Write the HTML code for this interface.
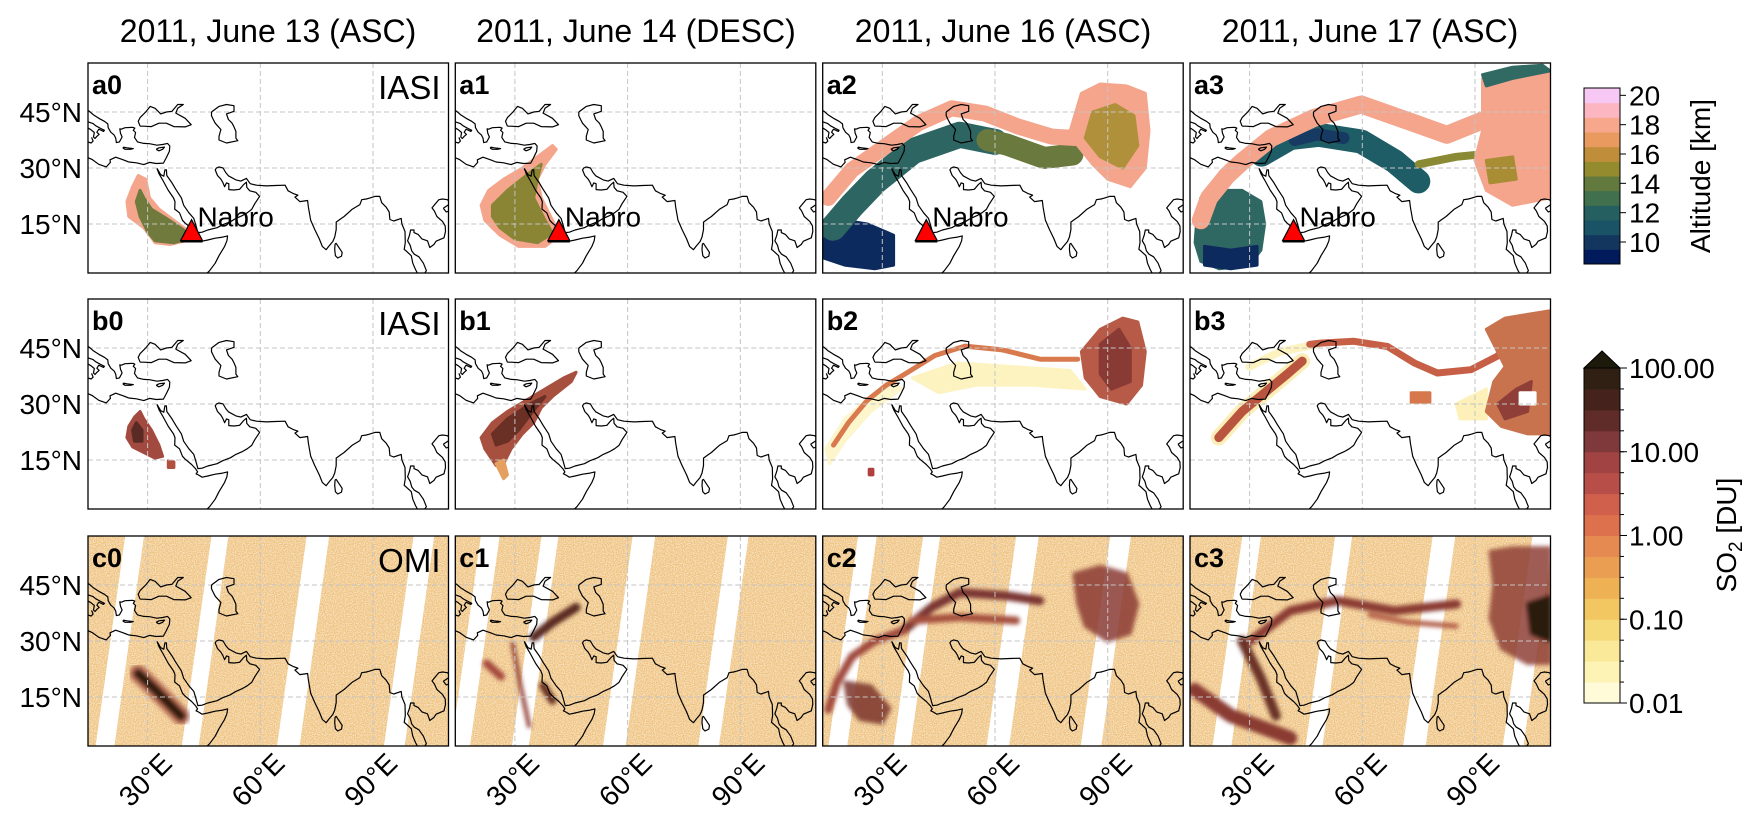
<!DOCTYPE html>
<html><head><meta charset="utf-8"><title>Nabro SO2 plume maps</title>
<style>
html,body{margin:0;padding:0;background:#fff;}
svg{display:block;font-family:"Liberation Sans","DejaVu Sans",sans-serif;}
</style></head>
<body>
<svg id="fig" width="1752" height="825" viewBox="0 0 1752 825" xmlns="http://www.w3.org/2000/svg">
<defs>
<filter id="soft" x="-20%" y="-20%" width="140%" height="140%"><feGaussianBlur stdDeviation="2.2"/></filter>
<filter id="speck" x="0" y="0" width="100%" height="100%">
<feTurbulence type="fractalNoise" baseFrequency="0.9" numOctaves="1" seed="7" result="n"/>
<feColorMatrix in="n" type="matrix" values="0 0 0 0 1  0 0 0 0 1  0 0 0 0 1  0 0 0 -3 1.9"/>
</filter>
</defs>
<g font-size="32" text-anchor="middle" fill="#000">
<text x="268" y="42">2011, June 13 (ASC)</text>
<text x="636" y="42">2011, June 14 (DESC)</text>
<text x="1003" y="42">2011, June 16 (ASC)</text>
<text x="1370" y="42">2011, June 17 (ASC)</text>
</g>
<g id="panels"></g>
<g id="axes"></g>
<g id="cbars"></g>
</svg>
<script>
// ---------- data ----------
const latTicks = [45, 30, 15];
const latTickLabels = ["45°N", "30°N", "15°N"];
const lonTicks = [30, 60, 90];
const lonTickLabels = ["30°E", "60°E", "90°E"];
const altLevels = [8.5,9.5,10.5,11.5,12.5,13.5,14.5,15.5,16.5,17.5,18.5,19.5,20.5];
const altTicks = [10,12,14,16,18,20];
const so2Decades = [-2,-1,0,1,2];
const so2TickLabels = ["0.01","0.10","1.00","10.00","100.00"];
const so2Levels = [-2,-1.75,-1.5,-1.25,-1,-0.75,-0.5,-0.25,0,0.25,0.5,0.75,1,1.25,1.5,1.75,2];
const panelLetters = ["a","b","c"];
const nabro = [41.7, 13.2];
// OMI swath gap longitudes (at top edge) per panel and widths (deg)
const omiGaps = [[26.6,49.3,75.4,103.6],[23.5,39.4,64.4,89.5],[26.1,43.2,68.7,93.5],[30.6,55.1,81.8,108.1]];
const omiGapWidth = [5,4.5,6,5.5];

// coastlines (lon, lat)
const coastMed = [[14,32.8],[15.2,32.3],[17,31],[19,30.3],[20.1,31.5],[20,32.2],[21.5,32.9],[23.5,32.2],[25,31.6],[27,31.4],[29,30.9],[30.5,31.5],[32.3,31.2],[34.2,31.3],[35,32.8],[35.8,34.5],[35.9,35.9],[35.3,36.6],[34,36.3],[32.5,36.1],[30.5,36.5],[29,36.6],[27.3,37],[26.5,38.2],[26.8,39.5],[26.2,40.1],[26.6,40.7],[26,40.9],[24,40.8],[23,40.4],[22.6,40.5],[22.8,39.3],[23.2,38.3],[22.5,37],[21.7,36.8],[21.5,38],[21.1,38.8],[20.2,39.6],[19.5,40.8],[19.4,41.8],[18.5,42.5],[17,43.3],[15.5,44.3],[14.5,45.2],[13.7,45.6]];
const coastItaly = [[14,42.4],[15.5,41.9],[16.2,41.3],[17.5,40.6],[18.5,40.1],[18.3,39.8],[17,40.4],[16.5,39.6],[17.1,39],[16.5,38.5],[16,37.9],[15.6,38.3],[15.8,39.5],[15,40.2],[14,40.8]];
const coastSicily = [[15.1,38.2],[15.5,37.2],[15,36.7],[14,37]];
const coastCrete = [[23.5,35.6],[24.5,35.4],[26.2,35.2],[25.5,35],[24,35],[23.5,35.3],[23.5,35.6]];
const coastCyprus = [[32.3,35],[33,35.4],[34.5,35.6],[34,35],[33,34.6],[32.3,35]];
const coastBlack = [[28,41.2],[27.5,42.5],[28,43.5],[29.5,45],[30.7,46.5],[32,46],[33.5,44.5],[35,45],[36.5,45.2],[38,47],[39.5,47],[38,46],[37.5,44.7],[40,43.3],[41.6,41.6],[40,41],[37,41.1],[35,42],[33,42],[31,41.1],[29,41.2],[28,41.2]];
const coastCaspian = [[47,45],[49,46.5],[51,47],[53,46.7],[53,45.2],[51,44.5],[51.5,43],[52.5,42],[53,41],[53.5,39.8],[53.5,38],[54,37.3],[51,36.7],[49,37.5],[49,38.5],[49.5,40.3],[48,42],[47.5,43],[47,44],[47,45]];
const coastAfrica = [[32.5,29.9],[33,28.5],[34,26.8],[35.5,24],[36.9,22],[37.3,21],[37.2,19],[38.5,18],[39.3,16],[40,15.2],[41.7,13.8],[42.8,12.6],[43.3,11.8],[42.9,11.3],[43.5,11],[44.5,10.4],[46,10.7],[48,11.2],[50,11.5],[51.3,11.8],[51.1,10.5],[50.5,9],[49,6.5],[48,4.5],[46.5,2.5],[45.5,1.5]];
const coastAsia = [[32.5,29.9],[33.5,28.2],[34.3,27.8],[34.6,29.5],[35,29.5],[35.1,28],[36.5,26],[37.5,24.3],[39,22],[39.6,20],[41,18],[42.3,16.5],[42.8,14.8],[43.4,12.7],[44.5,12.8],[46,13.4],[48.5,14],[50,14.8],[52,15.6],[53.5,16.5],[55.3,17.3],[56.5,18],[57.7,18.9],[58.5,20.4],[59.8,22.4],[58.8,23.5],[57.2,23.9],[56.4,24.8],[56.3,26.2],[55.6,25.6],[54.5,24.3],[53,24.1],[51.6,24.2],[51.6,25.8],[51,26],[50.5,25],[50,26.2],[49.5,27],[48.6,28],[48,29.5],[48.3,30],[49,30.3],[50.1,30],[50.8,28.8],[51.5,27.9],[53.5,26.8],[54.8,26.5],[56.3,27.2],[57.3,25.8],[59,25.4],[61.6,25.2],[64,25.3],[66.6,25.4],[67.4,23.9],[68.7,23.2],[70,22.7],[69.2,22.2],[70.5,21],[72.6,21.3],[72.8,19.5],[73.4,16],[74.5,13.5],[75.7,11],[76.5,9],[77.5,8.1],[78.2,9],[79.3,10.3],[79.8,11.5],[80.2,13.5],[80.2,15.5],[81.3,16.3],[82.3,17],[84.5,19],[86.5,20.2],[87,21.5],[88.2,21.7],[89,21.9],[90.5,22.4],[91.8,22.4],[92.3,20.7],[93.5,19.5],[94.3,18.2],[94.5,16.2],[95.5,15.8],[97.5,16.5],[97.7,15],[98.5,13],[98.6,10],[98.3,8.2],[98.8,7.8],[100.2,6.5],[100.6,4.5],[101.3,2.8],[102,1.5]];
const coastIndochina = [[103.5,1.5],[104.2,2.5],[103.4,4.5],[102.2,6.2],[101,6.9],[100.3,7.8],[99.9,9.3],[99.2,10.5],[99.7,12],[100,13.4],[100.9,13.4],[100.9,12.7],[102,12.2],[103,11],[104.5,10.5],[105.1,8.7],[106.2,9.5],[106.8,10.4],[108.9,11.3],[109.3,13],[109.2,14.5],[108.5,15.7],[107,17],[106.3,18.5],[105.7,19.3],[106.5,20.3],[107.5,21.5],[108.5,21.7],[109.8,21.5],[110.3,21]];
const coastSriLanka = [[79.9,9.7],[80.2,9.8],[81,8.6],[81.8,7.4],[81.6,6.4],[80.6,5.9],[80,6.5],[79.8,8.2],[79.9,9.7]];
const coastHainan = [[108.7,19.2],[109.5,18.2],[110.5,18.6],[111,19.8],[110,20.1],[108.7,19.2]];
const coasts = [coastMed,coastItaly,coastSicily,coastCrete,coastCyprus,coastBlack,coastCaspian,coastAfrica,coastAsia,coastIndochina,coastSriLanka,coastHainan];

// plume outlines (lon, lat)
const a0Pink = [[27.5,28],[29.5,27],[30.5,22],[33,19],[37,16],[41,13],[42,11],[36,9.5],[32,10],[29,14],[25,17],[24.5,21],[26,25]];
const a0Olive = [[28,24],[29,22],[31,19],[35,16.5],[39.5,13.5],[41,11],[37,10],[32,10.5],[30,13],[28,17],[27,21]];
const a1Pink = [[21,20],[23,24],[27,27],[32,30],[36,33],[40,36],[41,35],[38,31],[36,27],[37,22],[40,16],[42,12],[38,9],[31,9],[26,12],[22,16]];
const a1Olive = [[24,20],[28,24],[33,28],[37,31],[36,27],[35,22],[38,16],[40,12.5],[36,10],[30,11],[26,14],[24,17]];
const a2PinkArc = [[15.6,22],[21.9,29.5],[30.7,35.7],[39.6,42],[48.5,46],[57.3,44.6],[66.2,41.1],[75.1,38.4],[82,38]];
const a2PinkBlob = [[83,50],[88,52.5],[95,52],[100,50],[101,40],[100,30],[96,25],[90,27],[86,31],[82,36],[80,40]];
const a2OliveCore = [[86,45],[92,47],[97,44],[98,36],[94,30],[88,33],[84,38]];
const a2TealArc = [[16.9,14],[22,20],[28.1,26.4],[38.1,34.5],[50.6,38.9],[60,37]];
const a2OliveArc = [[58,37.5],[63.1,36.3],[73.1,32.7],[80.6,33.6]];
const a2Navy = [[15,14],[20,16],[26,15],[33,12],[33,4],[28,3],[20,4],[14,6]];
const a3PinkArc = [[17,16],[19.2,22],[24,28],[28.1,31.8],[35.7,38],[47.1,43.4],[59.7,47],[72.4,42.5],[82.5,38.9],[91.4,42.5]];
const a3PinkBlob = [[92,54],[100,56],[110,56],[110,22],[100,20],[93,24],[90,32],[92,40]];
const a3GreenTop = [[92,55],[100,57],[108,57.5],[110,56],[100,54],[93,52]];
const a3OliveSpot = [[93,32],[100,33],[101,27],[94,26]];
const a3TealArc = [[33.2,33.6],[40.8,38],[48.4,38.9],[59.7,37.1],[68.6,31.8],[74.9,26.4]];
const a3NavyArc = [[42,37.5],[48,39],[55,38]];
const a3OliveStrand = [[75,31],[85,33],[95,34],[102,35]];
const a3SWBlob = [[17,22],[22,24],[28,24],[33,21],[34,15],[33,8],[30,4],[22,3],[17,5],[15.5,10],[16,17]];
const a3SWNavy = [[18,9],[25,8],[32,9],[32,4],[25,3],[18,4]];
const b0Blob = [[28,28],[29,26],[31,23],[33,19],[34,16],[32,15.5],[29,17],[26,18.5],[24.5,21],[25,24],[26.5,26.5]];
const b0Core = [[27,25],[28.5,23],[28.5,20],[26.5,20],[26,23]];
const b0Spot = [[35.5,14.8],[37,14.5],[37,13],[35.5,13]];
const b1Blob = [[21,21],[24,25],[28,28],[33,31],[38,34],[43,37],[46.3,38.5],[45,36],[40,32],[37,29],[35,25],[32,22],[29,18],[27,14],[25,13.5],[24,15],[22,18]];
const b1Core = [[24,22],[28,26],[34,30],[38,32],[34,27],[31,23],[28,20],[25,19]];
const b1Tail = [[25,14],[27,10],[28,11],[27,15]];
const b2Arc = [[17,19],[21,25],[26,31],[31,35],[36,38],[44,43],[52,45.5],[62,44.5],[72,42],[82,42]];
const b2Light = [[38,37],[50,41],[65,40],[80,39],[84,34],[70,35],[55,35],[45,33]];
const b2LightSW = [[15,18],[20,26],[28,33],[33,36],[35,34],[27,28],[20,20],[16,14]];
const b2Blob = [[83,44],[88,50],[94,53],[98,52],[100,44],[99,35],[95,30],[88,32],[84,37]];
const b2Core = [[88,46],[93,50],[96,45],[96,36],[91,34],[88,38]];
const b2Spot = [[26.5,12.5],[27.5,12.5],[27.5,11],[26.5,11]];
const b3Arc = [[46,46],[48.9,46.3],[57.8,46.8],[66.7,45.4],[73.8,41],[80,38.3],[88.9,39.2],[95.9,42.8],[102.3,49]];
const b3LightArc = [[30,40],[38,44],[48,46]];
const b3RedSea = [[21.8,21],[28,28],[34,33],[40,38],[44,41.5]];
const b3Blob = [[93,50],[98,53],[104,54],[110,55],[110,22],[104,22],[97,24],[93,28],[95,36],[98,40]];
const b3Dark = [[96,30],[101,34],[105,36],[104,28],[98,26]];
const b3Hole = [[102,33],[106,33],[106,30],[102,30]];
const b3Fringe = [[85,30],[93,34],[93,26],[86,26]];
const b3Spot = [[73,33],[78,33],[78,30.5],[73,30.5]];
const c0Streak = [[27.5,21.3],[32,17],[38.9,9.9]];
const c1Arc = [[35,31],[40,35],[46.3,39]];
const c1West = [[22.5,24],[26.3,20.5]];
const c1Thin = [[29.4,29.3],[31.5,18],[33.8,7.2]];
const c1South = [[37.5,18],[40,14]];
const c2Arc1 = [[35.6,32.8],[43.1,39],[50.6,43],[63.1,42.1],[71.9,40.8]];
const c2Arc2 = [[38.1,35.5],[50.6,36.4],[65.6,35.5]];
const c2SW = [[15.6,11.6],[18,19],[21.9,25.8],[28,30],[35.6,32.8]];
const c2Blob = [[81,48],[88,50],[95,48],[98,40],[96,32],[90,30],[84,34],[82,40]];
const c2SWBlob = [[20,19],[27,18],[32,12],[30,8],[24,9],[21,13]];
const c3Arc1 = [[30.6,30.2],[40.8,38.1],[53.4,40.8],[68.6,38.1],[85.1,39.9]];
const c3Arc2 = [[62,37],[72,35],[85,34]];
const c3Blob = [[94,54],[100,55],[110,55],[110,24],[104,24],[97,28],[94,36],[95,45]];
const c3Dark = [[104,40],[110,42],[110,30],[105,32]];
const c3SW = [[15.4,16.9],[25,10],[33,7],[40.8,4]];
const c3Streak = [[28,30],[33,20],[37,10]];

// ---------- geometry ----------
const NS = "http://www.w3.org/2000/svg";
const COLS = [88, 455.3, 822.7, 1190];
const ROWS = [63, 299, 536];
const PW = 360.5, PH = 210;
const KX = 3.757, KY = 3.733;
function X(c, lon) { return COLS[c] + 59.6 + (lon - 30) * KX; }
function Y(r, lat) { return ROWS[r] + 49 + (45 - lat) * KY; }
function mk(tag, attrs, parent) {
  const e = document.createElementNS(NS, tag);
  for (const k in attrs) e.setAttribute(k, attrs[k]);
  parent.appendChild(e);
  return e;
}
function ptsStr(r, c, pts) { return pts.map(p => X(c, p[0]).toFixed(1) + "," + Y(r, p[1]).toFixed(1)).join(" "); }
function poly(g, r, c, pts, fill, name, op) {
  const e = mk("polygon", {points: ptsStr(r, c, pts), fill: fill, "stroke": fill, "stroke-width": 3, "stroke-linejoin": "round", opacity: op || 1}, g);
  
  
  return e;
}
function band(g, r, c, pts, color, w, name, op) {
  const e = mk("polyline", {points: ptsStr(r, c, pts), fill: "none", stroke: color, "stroke-width": w, "stroke-linejoin": "round", "stroke-linecap": "round", opacity: op || 1}, g);
  
  
  return e;
}

const panels = document.getElementById("panels");
const defs = document.querySelector("defs");

for (let r = 0; r < 3; r++) {
  for (let c = 0; c < 4; c++) {
    const cp = mk("clipPath", {id: "cp" + r + c}, defs);
    mk("rect", {x: COLS[c], y: ROWS[r], width: PW, height: PH}, cp);
    const g = mk("g", {"clip-path": "url(#cp" + r + c + ")"}, panels);
    
    
    mk("rect", {x: COLS[c], y: ROWS[r], width: PW, height: PH, fill: "#fff"}, g);

    if (r === 2) {
      const sw = mk("g", {}, g);
      
      
      mk("rect", {x: COLS[c], y: ROWS[r], width: PW, height: PH, fill: "#efc27e"}, sw);
      const sp = mk("rect", {x: COLS[c], y: ROWS[r], width: PW, height: PH, fill: "#fff", filter: "url(#speck)", opacity: 0.55}, sw);
      
      
      omiGaps[c].forEach((lon, i) => {
        const w = omiGapWidth[i];
        const latT = 58.5, latB = 1.5, shift = 8;
        const gp = [[lon - w/2, latT], [lon + w/2, latT], [lon + w/2 - shift, latB], [lon - w/2 - shift, latB]];
        const e = mk("polygon", {points: ptsStr(r, c, gp), fill: "#fff"}, sw);
        
        
      });
    }

    const pl = mk("g", {}, g);
    
    
    const key = panelLetters[r] + c;
    if (key === "a0") {
      poly(pl, r, c, a0Pink, "#f4a58c", "plume-high");
      poly(pl, r, c, a0Olive, "#6f7a3c", "plume-mid");
    } else if (key === "a1") {
      poly(pl, r, c, a1Pink, "#f4a58c", "plume-high");
      poly(pl, r, c, a1Olive, "#8a8535", "plume-mid");
    } else if (key === "a2") {
      poly(pl, r, c, a2Navy, "#0d2a5e", "plume-low");
      band(pl, r, c, a2TealArc, "#2d6562", 26, "plume-teal-arc");
      band(pl, r, c, a2OliveArc, "#6a7a3e", 22, "plume-olive-arc");
      band(pl, r, c, a2PinkArc, "#f4a58c", 16, "plume-pink-arc");
      poly(pl, r, c, a2PinkBlob, "#f4a58c", "plume-east-blob");
      poly(pl, r, c, a2OliveCore, "#b0903a", "plume-east-core");
    } else if (key === "a3") {
      poly(pl, r, c, a3SWBlob, "#2f6763", "plume-sw");
      poly(pl, r, c, a3SWNavy, "#0d2a5e", "plume-sw-low");
      band(pl, r, c, a3TealArc, "#1f5d66", 24, "plume-teal-arc");
      band(pl, r, c, a3NavyArc, "#163a62", 12, "plume-navy-arc");
      band(pl, r, c, a3OliveStrand, "#8a8a35", 8, "plume-olive-strand");
      band(pl, r, c, a3PinkArc, "#f4a58c", 18, "plume-pink-arc");
      poly(pl, r, c, a3PinkBlob, "#f4a58c", "plume-east-blob");
      poly(pl, r, c, a3GreenTop, "#306a63", "plume-east-top");
      poly(pl, r, c, a3OliveSpot, "#a88d35", "plume-east-core");
    } else if (key === "b0") {
      poly(pl, r, c, b0Blob, "#a34a40", "so2-blob");
      poly(pl, r, c, b0Core, "#5a2a25", "so2-core");
      poly(pl, r, c, b0Spot, "#b0503f", "so2-spot");
    } else if (key === "b1") {
      poly(pl, r, c, b1Blob, "#a8503f", "so2-blob");
      poly(pl, r, c, b1Core, "#6a3025", "so2-core");
      poly(pl, r, c, b1Tail, "#e5a060", "so2-tail");
    } else if (key === "b2") {
      poly(pl, r, c, b2Light, "#fdf3c0", "so2-light");
      poly(pl, r, c, b2LightSW, "#fdf6cc", "so2-light-sw");
      band(pl, r, c, b2Arc, "#d97a4e", 5, "so2-arc");
      poly(pl, r, c, b2Blob, "#b85a48", "so2-east-blob");
      poly(pl, r, c, b2Core, "#8a3a34", "so2-east-core");
      poly(pl, r, c, b2Spot, "#b04040", "so2-spot");
    } else if (key === "b3") {
      band(pl, r, c, b3LightArc, "#fdf3c0", 8, "so2-light-arc");
      poly(pl, r, c, b3Fringe, "#fdf0b8", "so2-fringe");
      band(pl, r, c, b3Arc, "#c65f45", 7, "so2-arc");
      band(pl, r, c, b3RedSea, "#fbeeb8", 16, "so2-redsea-halo");
      band(pl, r, c, b3RedSea, "#b9553f", 9, "so2-redsea");
      poly(pl, r, c, b3Blob, "#c8734e", "so2-east-blob");
      poly(pl, r, c, b3Dark, "#8f3f38", "so2-east-core");
      poly(pl, r, c, b3Hole, "#ffffff", "so2-hole");
      poly(pl, r, c, b3Spot, "#d6784c", "so2-spot");
    } else {
      const sg = mk("g", {filter: "url(#soft)"}, pl);
      
      
      if (key === "c0") {
        band(sg, r, c, c0Streak, "#a04a3a", 18, "so2-halo", 0.7);
        band(sg, r, c, c0Streak, "#2f1a10", 9, "so2-streak");
      } else if (key === "c1") {
        band(sg, r, c, c1Arc, "#5a2a20", 9, "so2-arc");
        band(sg, r, c, c1West, "#a54a3c", 8, "so2-west");
        band(sg, r, c, c1Thin, "#8f3a30", 4, "so2-thin");
        band(sg, r, c, c1South, "#6b3024", 8, "so2-south");
      } else if (key === "c2") {
        poly(sg, r, c, c2Blob, "#8a3a32", "so2-east-blob", 0.85);
        poly(sg, r, c, c2SWBlob, "#7a3428", "so2-sw-blob", 0.85);
        band(sg, r, c, c2Arc1, "#7a3530", 9, "so2-arc1");
        band(sg, r, c, c2Arc2, "#a4503e", 8, "so2-arc2");
        band(sg, r, c, c2SW, "#a04a3c", 8, "so2-sw");
      } else if (key === "c3") {
        poly(sg, r, c, c3Blob, "#8f4035", "so2-east-blob", 0.85);
        poly(sg, r, c, c3Dark, "#2a1a10", "so2-east-core");
        band(sg, r, c, c3Arc1, "#8a3a32", 9, "so2-arc1");
        band(sg, r, c, c3Arc2, "#b05a44", 5, "so2-arc2");
        band(sg, r, c, c3SW, "#8a3a30", 14, "so2-sw");
        band(sg, r, c, c3Streak, "#6a3025", 10, "so2-streak");
      }
    }

    // gridlines
    const gl = mk("g", {stroke: "#c4c4c4", "stroke-width": 1, "stroke-dasharray": "5,3"}, g);
    
    
    lonTicks.forEach(lon => { mk("line", {x1: X(c, lon), x2: X(c, lon), y1: ROWS[r], y2: ROWS[r] + PH}, gl); });
    latTicks.forEach(lat => { mk("line", {x1: COLS[c], x2: COLS[c] + PW, y1: Y(r, lat), y2: Y(r, lat)}, gl); });

    // coastlines
    const cg = mk("g", {fill: "none", stroke: "#000", "stroke-width": 1.2, "stroke-linejoin": "round"}, g);
    
    
    coasts.forEach(cl => { mk("polyline", {points: ptsStr(r, c, cl)}, cg); });

    // Nabro marker in row a
    if (r === 0) {
      const nx = X(c, nabro[0]), ny = Y(r, nabro[1]);
      const tri = mk("polygon", {points: (nx-11)+","+(ny+10)+" "+(nx+11)+","+(ny+10)+" "+nx+","+(ny-11), fill: "#f00", stroke: "#000", "stroke-width": 1.2}, g);
      
      
      mk("line", {x1: nx-11, x2: nx+11, y1: ny+10.5, y2: ny+10.5, stroke: "#000", "stroke-width": 2.5}, g);
      const nt = mk("text", {x: nx + 6, y: ny - 4, "font-size": 28, fill: "#000"}, g);
      nt.textContent = "Nabro";
      
      
    }

    // panel label
    const lt = mk("text", {x: COLS[c] + 4, y: ROWS[r] + 31, "font-size": 27, "font-weight": "bold", fill: "#000"}, g);
    lt.textContent = panelLetters[r] + c;
    
    
    if (c === 0) {
      const it = mk("text", {x: COLS[c] + PW - 8, y: ROWS[r] + 36, "font-size": 33, "text-anchor": "end", fill: "#000"}, g);
      it.textContent = r === 2 ? "OMI" : "IASI";
      
      
    }

    const fr = mk("rect", {x: COLS[c], y: ROWS[r], width: PW, height: PH, fill: "none", stroke: "#000", "stroke-width": 1.3}, panels);
    
    
  }
}

// axis tick labels
const axes = document.getElementById("axes");
for (let r = 0; r < 3; r++) {
  latTicks.forEach((lat, i) => {
    const t = mk("text", {x: 82, y: Y(r, lat) + 10, "font-size": 28, "text-anchor": "end", fill: "#000"}, axes);
    t.textContent = latTickLabels[i];
    
    
  });
}
for (let c = 0; c < 4; c++) {
  lonTicks.forEach((lon, i) => {
    const x = X(c, lon) + 26, y = 765;
    const t = mk("text", {x: x, y: y, "font-size": 28, "text-anchor": "end", fill: "#000", transform: "rotate(-45 " + x + " " + y + ")"}, axes);
    t.textContent = lonTickLabels[i];
    
    
  });
}

// colorbars
const cb = document.getElementById("cbars");
const altColors = ["#001a5c","#13365e","#1a5266","#265f5f","#41704f","#637a3e","#948b2e","#c08e3a","#e89a5f","#f7a88c","#fbb6c1","#f8c8f5"];
const so2Colors = ["#fffbd8","#fdf3b5","#fbe99a","#f6da7a","#f2c660","#eeb255","#e99e52","#e58a50","#dd704d","#d05f4c","#b84e48","#a04342","#80393a","#5f2c2a","#45231c","#2f2013"];
const CBX = 1584, CBW = 36;
const AT = 88, AB = 264;
function altY(v) { return AB - (v - altLevels[0]) / (altLevels[altLevels.length-1] - altLevels[0]) * (AB - AT); }
for (let i = 0; i < altLevels.length - 1; i++) {
  const e = mk("rect", {x: CBX, y: altY(altLevels[i+1]), width: CBW, height: altY(altLevels[i]) - altY(altLevels[i+1]) + 0.5, fill: altColors[i]}, cb);
  
  
}
const af = mk("rect", {x: CBX, y: AT, width: CBW, height: AB - AT, fill: "none", stroke: "#000", "stroke-width": 1}, cb);


altTicks.forEach(v => {
  mk("line", {x1: CBX + CBW, x2: CBX + CBW + 6, y1: altY(v), y2: altY(v), stroke: "#000"}, cb);
  const t = mk("text", {x: CBX + CBW + 9, y: altY(v) + 10, "font-size": 28, fill: "#000"}, cb);
  t.textContent = String(v);
  
  
});
const atl = mk("text", {x: 1710, y: 176, "font-size": 28, "text-anchor": "middle", fill: "#000", transform: "rotate(-90 1710 176)"}, cb);
atl.textContent = "Altitude [km]";



const ST = 368, SB = 703;
function so2Y(v) { return SB - (v - so2Levels[0]) / (so2Levels[so2Levels.length-1] - so2Levels[0]) * (SB - ST); }
for (let i = 0; i < so2Levels.length - 1; i++) {
  const e = mk("rect", {x: CBX, y: so2Y(so2Levels[i+1]), width: CBW, height: so2Y(so2Levels[i]) - so2Y(so2Levels[i+1]) + 0.5, fill: so2Colors[i]}, cb);
  
  
}
const tip = mk("polygon", {points: CBX+","+ST+" "+(CBX+CBW)+","+ST+" "+(CBX+CBW/2)+","+(ST-17), fill: "#1e1a0b", stroke: "#000", "stroke-width": 1}, cb);


const sf = mk("rect", {x: CBX, y: ST, width: CBW, height: SB - ST, fill: "none", stroke: "#000", "stroke-width": 1}, cb);


so2Levels.forEach(v => { mk("line", {x1: CBX + CBW, x2: CBX + CBW + 4, y1: so2Y(v), y2: so2Y(v), stroke: "#000"}, cb); });
so2Decades.forEach((v, i) => {
  mk("line", {x1: CBX + CBW, x2: CBX + CBW + 7, y1: so2Y(v), y2: so2Y(v), stroke: "#000"}, cb);
  const t = mk("text", {x: CBX + CBW + 9, y: so2Y(v) + 10, "font-size": 28, fill: "#000"}, cb);
  t.textContent = so2TickLabels[i];
  
  
});
const stl = mk("text", {x: 1736, y: 535, "font-size": 28, "text-anchor": "middle", fill: "#000", transform: "rotate(-90 1736 535)"}, cb);


stl.appendChild(document.createTextNode("SO"));
const sub = mk("tspan", {"font-size": 19, dy: 6}, stl);
sub.textContent = "2";
const rest = mk("tspan", {dy: -6}, stl);
rest.textContent = " [DU]";
</script>
</body></html>
